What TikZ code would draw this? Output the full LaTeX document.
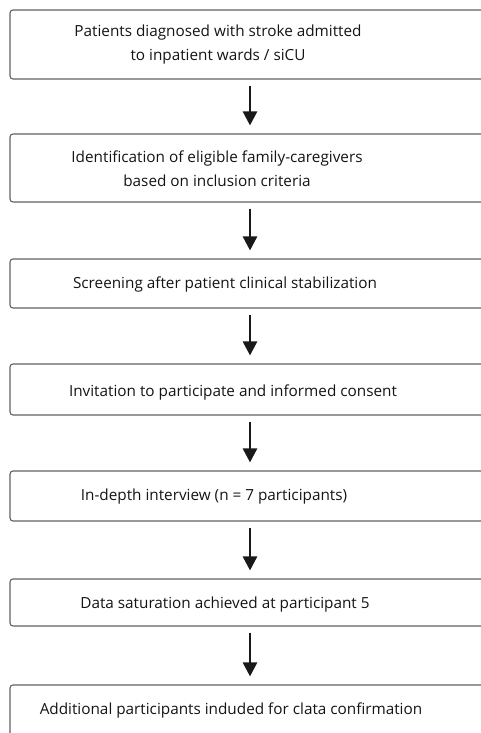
\documentclass[tikz,border=0pt]{standalone}
\usepackage{fontspec}
\setmainfont{Open Sans}
\usetikzlibrary{arrows.meta}
\begin{document}
\begin{tikzpicture}[x=1pt,y=-1pt,
  box/.style={draw=black!62, line width=1.1pt, rounded corners=3pt, minimum width=480pt, inner sep=0pt, anchor=center},
  lbl/.style={text=black!92, font=\fontsize{15.3}{24}\selectfont, align=center, inner sep=0pt},
  arr/.style={-{Triangle[length=14pt,width=14pt]}, line width=2.6pt, black!90, shorten <=6pt, shorten >=8pt}]
\useasboundingbox (0,0) rectangle (481,733);
\begin{scope}
\clip (0,0) rectangle (481,733);
\node[box, minimum height=69pt] (b1) at (250,44.5) {};
\node[box, minimum height=68pt] (b2) at (250,168) {};
\node[box, minimum height=49pt] (b3) at (250,283.5) {};
\node[box, minimum height=51pt] (b4) at (250,389.5) {};
\node[box, minimum height=50pt] (b5) at (250,496) {};
\node[box, minimum height=47pt] (b6) at (250,602.5) {};
\node[box, minimum height=60pt] (b7) at (250,715) {};
\end{scope}
\node[lbl] (t1) at (218,45) {Patients diagnosed with stroke admitted\\to inpatient wards / siCU};
\node[lbl] (t2) at (217,169) {Identification of eligible family-caregivers\\based on inclusion criteria};
\node[lbl] (t3) at (225,284) {Screening after patient clinical stabilization};
\node[lbl] (t4) at (233,392) {Invitation to participate and informed consent};
\node[lbl] (t5) at (214,497) {In-depth interview (n = 7 participants)};
\node[lbl] (t6) at (225,605) {Data saturation achieved at participant 5};
\node[lbl] (t7) at (231,710) {Additional participants induded for clata confirmation};
\draw[arr] (b1) -- (b2);
\draw[arr] (b2) -- (b3);
\draw[arr] (b3) -- (b4);
\draw[arr] (b4) -- (b5);
\draw[arr] (b5) -- (b6);
\draw[arr] (b6) -- (b7);
\end{tikzpicture}
\end{document}
